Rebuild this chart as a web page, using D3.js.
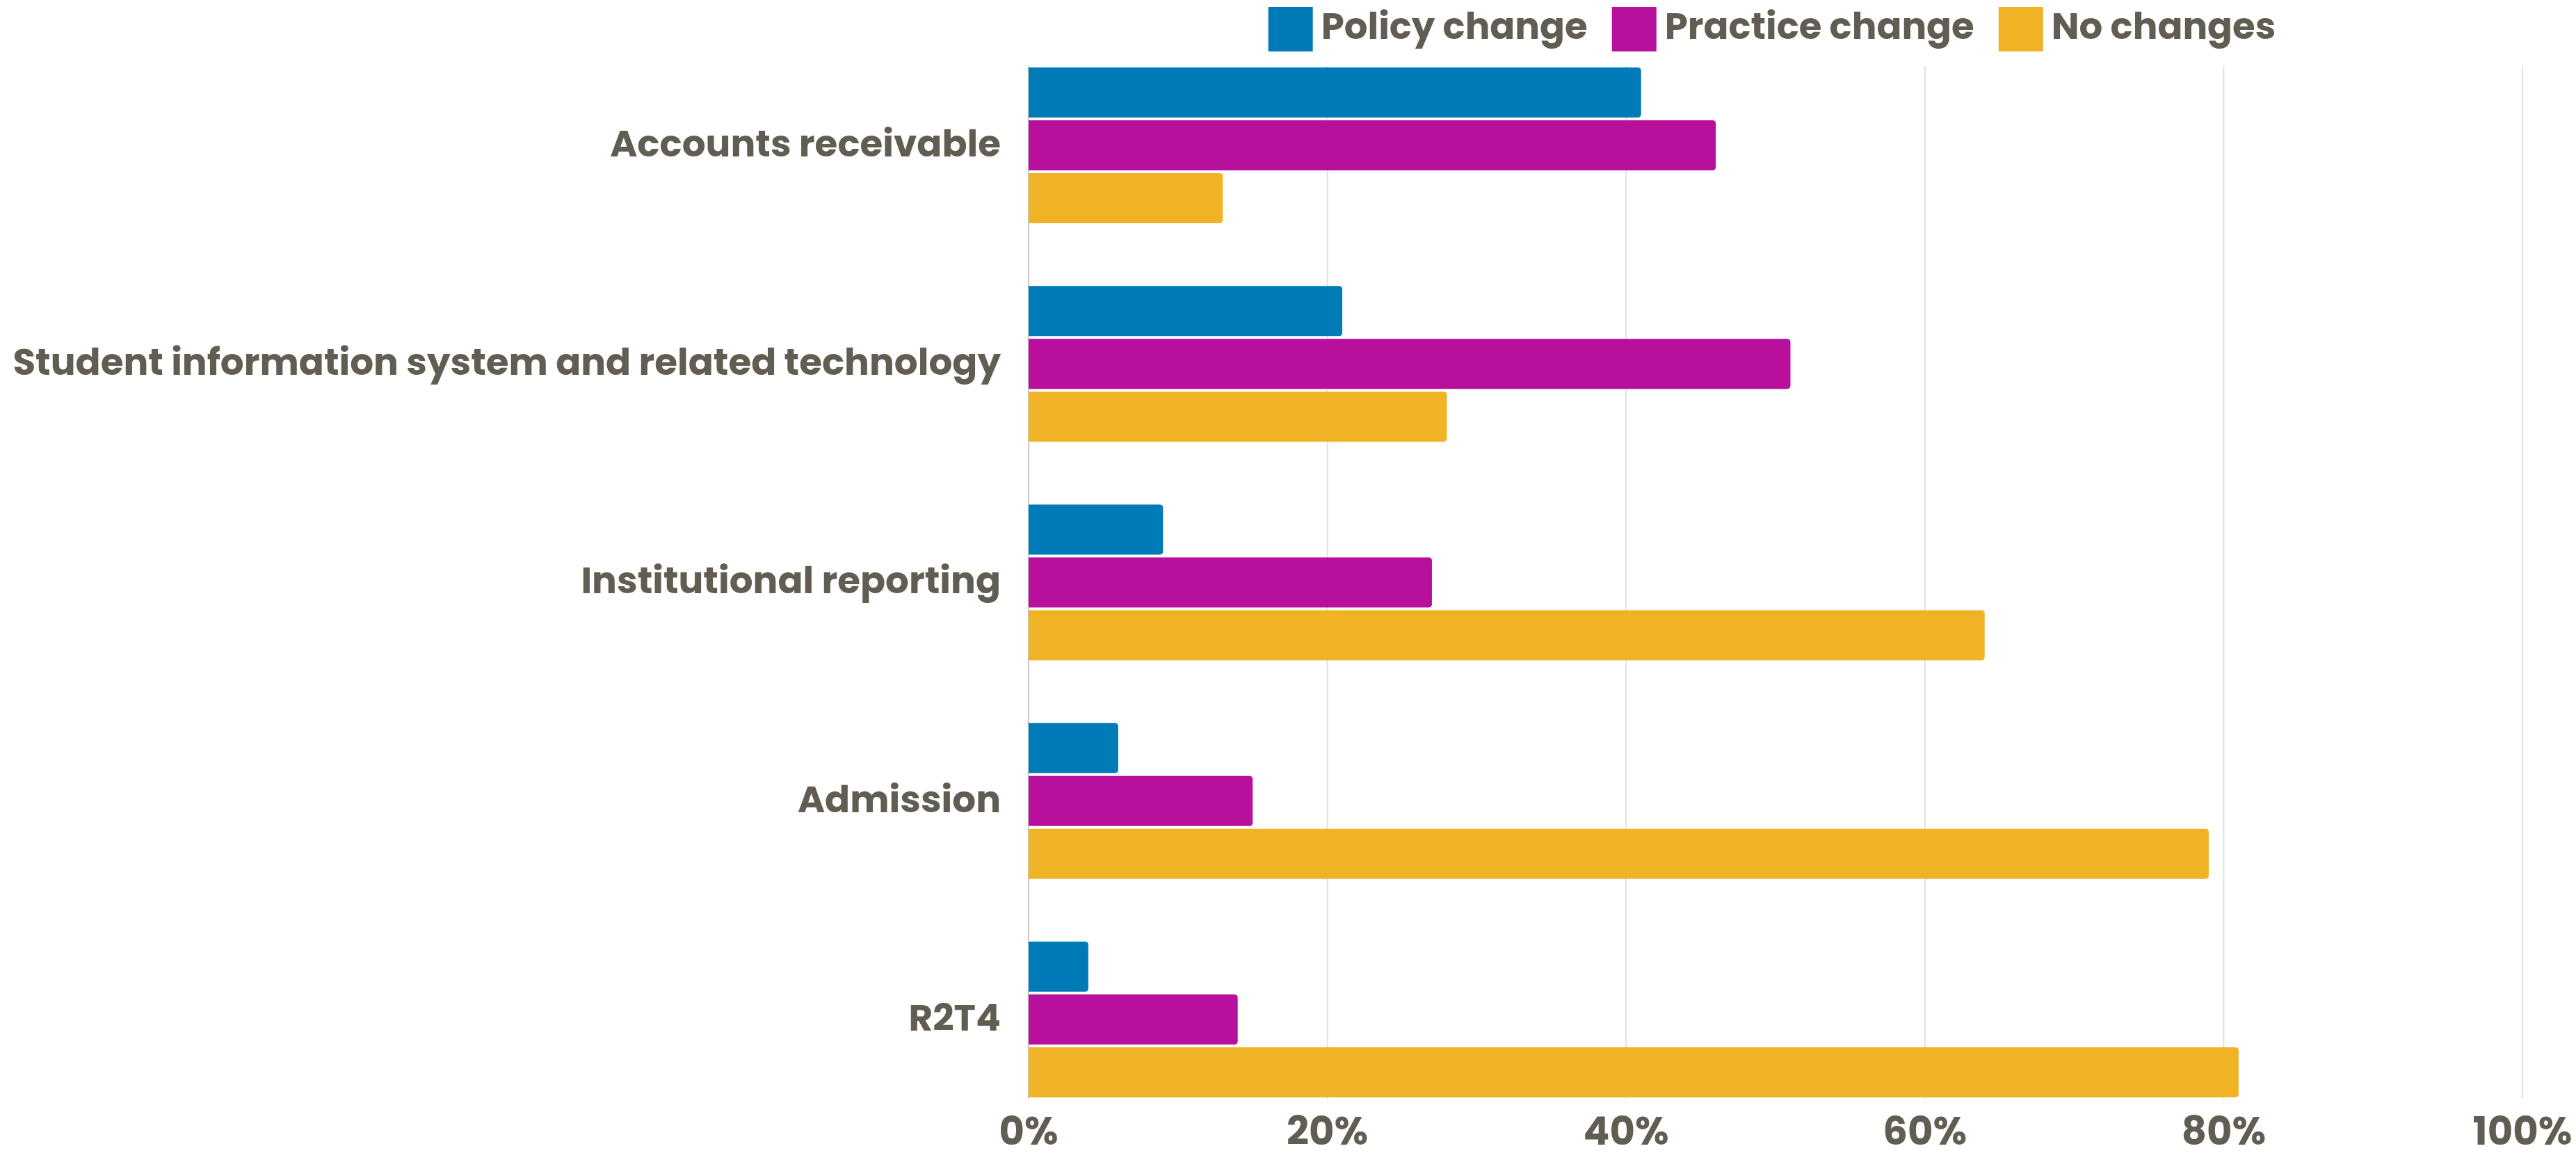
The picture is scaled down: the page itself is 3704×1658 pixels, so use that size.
<!DOCTYPE html>
<html>
<head>
<meta charset="utf-8">
<script src="https://cdn.jsdelivr.net/npm/d3@7"></script>
<style>
  html, body { margin: 0; padding: 0; background: #fff; }
  svg text { font-family: "Poppins", "Open Sans", sans-serif; font-weight: 700; fill: #625d52; }
</style>
</head>
<body>
<svg id="chart" width="3704" height="1658"></svg>
<script>
// categories, top to bottom
const categories = [
    'Accounts receivable',
    'Student information system and related technology',
    'Institutional reporting',
    'Admission',
    'R2T4'
];

// series names and colours
const seriesNames = ['Policy change', 'Practice change', 'No changes'];
const seriesColors = ['#007bb8', '#b8109d', '#f0b326'];

// percent values per series, same order as categories
const policyChange = [41, 21, 9, 6, 4];
const practiceChange = [46, 51, 27, 15, 14];
const noChanges = [13, 28, 64, 79, 81];

const tickValues = [0, 20, 40, 60, 80, 100];

const seriesValues = [policyChange, practiceChange, noChanges];

// Layout
const config = {
    left: 1479,
    right: 3627,
    top: 95,
    bottom: 1580,
    groupPadding: 0.2745,
    barGap: 4,
    radius: 5,
    labelGap: 40,
    labelSize: 53.2,
    tickSize: 56,
    legendSize: 53
};

const svg = d3.select('#chart');

const x = d3.scaleLinear()
    .domain([0, 100])
    .range([config.left, config.right]);

const y0 = d3.scaleBand()
    .domain(categories)
    .range([config.top, config.bottom])
    .paddingInner(config.groupPadding)
    .paddingOuter(0);

const y1 = d3.scaleBand()
    .domain(seriesNames)
    .range([0, y0.bandwidth()]);

// gridlines
svg.append('g')
    .selectAll('line')
    .data(tickValues.slice(1))
    .enter().append('line')
    .attr('x1', d => x(d))
    .attr('x2', d => x(d))
    .attr('y1', config.top)
    .attr('y2', config.bottom)
    .attr('stroke', '#e0e0e0')
    .attr('stroke-width', 2);

// zero line
svg.append('line')
    .attr('x1', x(0)).attr('x2', x(0))
    .attr('y1', config.top).attr('y2', config.bottom)
    .attr('stroke', '#c8c8c8')
    .attr('stroke-width', 2);

// bar with rounded right end
function barPath(x0, x1, yTop, h, r) {
    r = Math.min(r, (x1 - x0) / 2);
    return 'M' + x0 + ',' + yTop +
        'H' + (x1 - r) +
        'Q' + x1 + ',' + yTop + ' ' + x1 + ',' + (yTop + r) +
        'V' + (yTop + h - r) +
        'Q' + x1 + ',' + (yTop + h) + ' ' + (x1 - r) + ',' + (yTop + h) +
        'H' + x0 + 'Z';
}

const groups = svg.append('g')
    .selectAll('g')
    .data(categories)
    .enter().append('g')
    .attr('transform', d => 'translate(0,' + y0(d) + ')');

groups.selectAll('path')
    .data((c, ci) => seriesNames.map((s, si) => ({ s: s, si: si, v: seriesValues[si][ci] })))
    .enter().append('path')
    .attr('d', d => barPath(x(0), x(d.v), y1(d.s) + config.barGap / 2, y1.bandwidth() - config.barGap, config.radius))
    .attr('fill', d => seriesColors[d.si]);

// category labels
groups.append('text')
    .attr('x', x(0) - config.labelGap)
    .attr('y', y0.bandwidth() / 2)
    .attr('dy', '0.3em')
    .attr('text-anchor', 'end')
    .style('font-size', config.labelSize + 'px')
    .text(d => d);

// x axis tick labels
svg.append('g')
    .selectAll('text')
    .data(tickValues)
    .enter().append('text')
    .attr('x', d => x(d))
    .attr('y', 1646)
    .attr('text-anchor', 'middle')
    .style('font-size', config.tickSize + 'px')
    .text(d => d + '%');

// legend
const legend = svg.append('g');
let cursor = 0;
seriesNames.forEach((name, i) => {
    const item = legend.append('g').attr('transform', 'translate(' + cursor + ',0)');
    item.append('rect')
        .attr('x', 0).attr('y', 10)
        .attr('width', 64).attr('height', 64)
        .attr('fill', seriesColors[i]);
    const t = item.append('text')
        .attr('x', 76)
        .attr('y', 56)
        .style('font-size', config.legendSize + 'px')
        .text(name);
    cursor += 76 + t.node().getComputedTextLength() + 35;
});
const legendWidth = cursor - 35;
legend.attr('transform', 'translate(' + (2548 - legendWidth / 2) + ',0)');
</script>
</body>
</html>
